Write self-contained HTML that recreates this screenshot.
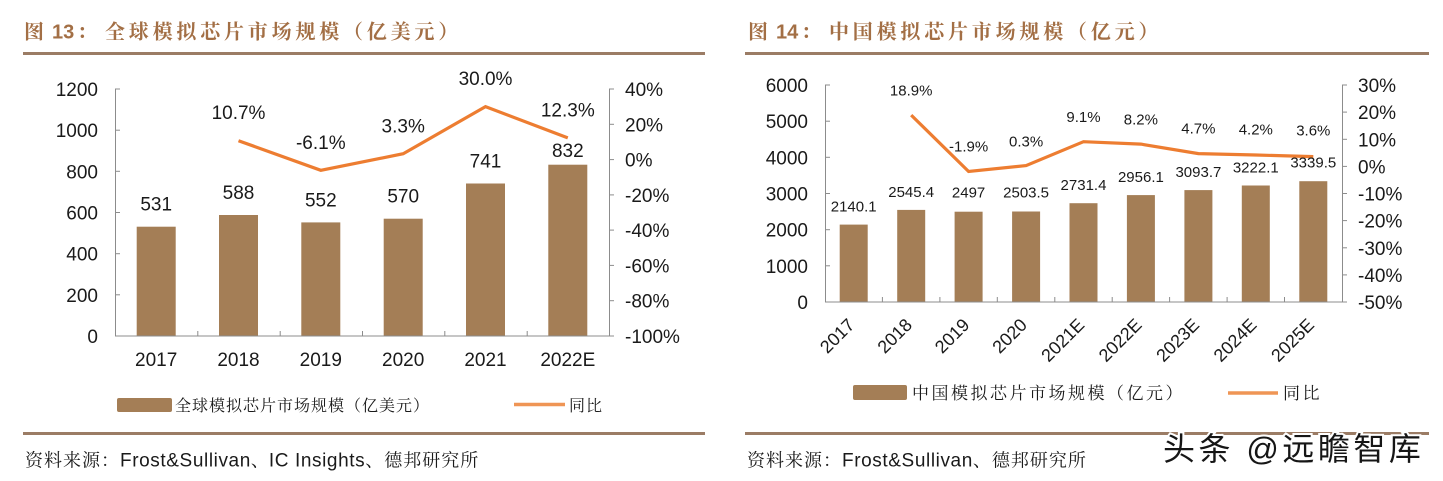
<!DOCTYPE html>
<html><head><meta charset="utf-8"><style>
html,body{margin:0;padding:0;background:#fff;}
svg{display:block;}
.n{font-family:"Liberation Sans",Arial,sans-serif;fill:#1a1a1a;}
.cj{font-family:"Liberation Serif","Noto Serif CJK SC",serif;fill:#1a1a1a;}
.tt{font-family:"Liberation Sans","Noto Serif CJK SC",serif;font-weight:700;fill:#a36f45;font-size:20px;}
</style></head><body>
<svg width="1443" height="481" viewBox="0 0 1443 481" xmlns="http://www.w3.org/2000/svg">
<rect width="1443" height="481" fill="#fff"/>

<!-- ============ LEFT PANEL ============ -->
<text class="tt" x="24" y="38.5">图</text>
<text class="tt" x="52" y="38.5">13</text>
<text class="tt" x="77" y="38.5">：</text>
<text class="tt" x="105" y="38.5" letter-spacing="3.8">全球模拟芯片市场规模（亿美元）</text>
<rect x="23" y="52" width="682" height="3" fill="#9b7c65"/>

<!-- bars -->
<g fill="#a47e56">
<rect x="136.7" y="226.7" width="39" height="109.3"/>
<rect x="219" y="215.0" width="39" height="121.0"/>
<rect x="301.3" y="222.4" width="39" height="113.6"/>
<rect x="383.7" y="218.7" width="39" height="117.3"/>
<rect x="466" y="183.5" width="39" height="152.5"/>
<rect x="548.3" y="164.7" width="39" height="171.3"/>
</g>

<!-- axes -->
<g stroke="#8c8c8c" stroke-width="1" fill="none">
<line x1="115.5" y1="89" x2="115.5" y2="336"/>
<line x1="609.5" y1="89" x2="609.5" y2="336"/>
<line x1="115" y1="336" x2="610" y2="336"/>
<line x1="115" y1="89" x2="120" y2="89"/>
<line x1="115" y1="130.2" x2="120" y2="130.2"/>
<line x1="115" y1="171.3" x2="120" y2="171.3"/>
<line x1="115" y1="212.5" x2="120" y2="212.5"/>
<line x1="115" y1="253.7" x2="120" y2="253.7"/>
<line x1="115" y1="294.8" x2="120" y2="294.8"/>
<line x1="609" y1="89" x2="614" y2="89"/>
<line x1="609" y1="124.3" x2="614" y2="124.3"/>
<line x1="609" y1="159.6" x2="614" y2="159.6"/>
<line x1="609" y1="194.9" x2="614" y2="194.9"/>
<line x1="609" y1="230.1" x2="614" y2="230.1"/>
<line x1="609" y1="265.4" x2="614" y2="265.4"/>
<line x1="609" y1="300.7" x2="614" y2="300.7"/>
<line x1="609" y1="336" x2="614" y2="336"/>
<line x1="197.8" y1="331" x2="197.8" y2="336"/>
<line x1="280.2" y1="331" x2="280.2" y2="336"/>
<line x1="362.5" y1="331" x2="362.5" y2="336"/>
<line x1="444.8" y1="331" x2="444.8" y2="336"/>
<line x1="527.2" y1="331" x2="527.2" y2="336"/>
</g>

<!-- line -->
<polyline points="238.5,140.7 320.8,170.3 403.2,153.75 485.5,106.6 567.8,137.9" fill="none" stroke="#ed7d31" stroke-width="3.2" stroke-linejoin="miter"/>

<!-- left axis labels -->
<g class="n" font-size="19" text-anchor="end">
<text x="98" y="96">1200</text>
<text x="98" y="137.2">1000</text>
<text x="98" y="178.3">800</text>
<text x="98" y="219.5">600</text>
<text x="98" y="260.7">400</text>
<text x="98" y="301.8">200</text>
<text x="98" y="343">0</text>
</g>
<g class="n" font-size="19">
<text x="625" y="96">40%</text>
<text x="625" y="131.3">20%</text>
<text x="625" y="166.6">0%</text>
<text x="625" y="201.9">-20%</text>
<text x="625" y="237.1">-40%</text>
<text x="625" y="272.4">-60%</text>
<text x="625" y="307.7">-80%</text>
<text x="625" y="343">-100%</text>
</g>
<!-- x labels -->
<g class="n" font-size="19" text-anchor="middle">
<text x="156.2" y="366">2017</text>
<text x="238.5" y="366">2018</text>
<text x="320.8" y="366">2019</text>
<text x="403.2" y="366">2020</text>
<text x="485.5" y="366">2021</text>
<text x="567.8" y="366">2022E</text>
</g>
<!-- value labels -->
<g class="n" font-size="19" text-anchor="middle">
<text x="156.2" y="210.7">531</text>
<text x="238.5" y="199">588</text>
<text x="320.8" y="206.4">552</text>
<text x="403.2" y="202.7">570</text>
<text x="485.5" y="167.5">741</text>
<text x="567.8" y="157">832</text>
<text x="238.5" y="119.2">10.7%</text>
<text x="320.8" y="148.8">-6.1%</text>
<text x="403.2" y="132.3">3.3%</text>
<text x="485.5" y="85.1">30.0%</text>
<text x="567.8" y="116.4">12.3%</text>
</g>
<!-- legend -->
<rect x="117" y="398" width="55" height="14" rx="2" fill="#a47e56"/>
<text class="cj" x="175" y="411" font-size="16" letter-spacing="1">全球模拟芯片市场规模（亿美元）</text>
<line x1="514" y1="404.5" x2="565" y2="404.5" stroke="#ef9555" stroke-width="3.5"/>
<text class="cj" x="569" y="411" font-size="16" letter-spacing="1">同比</text>

<rect x="23" y="432" width="682" height="3" fill="#9b7c65"/>
<text x="25" y="466.5" font-size="18"><tspan class="cj" letter-spacing="1">资料来源：</tspan><tspan class="n" font-size="19" letter-spacing="0.6">Frost&amp;Sullivan</tspan><tspan class="cj">、</tspan><tspan class="n" font-size="19" letter-spacing="0.6">IC Insights</tspan><tspan class="cj" letter-spacing="1">、德邦研究所</tspan></text>

<!-- ============ RIGHT PANEL ============ -->
<text class="tt" x="748" y="38.5">图</text>
<text class="tt" x="776" y="38.5">14</text>
<text class="tt" x="801" y="38.5">：</text>
<text class="tt" x="829" y="38.5" letter-spacing="3.8">中国模拟芯片市场规模（亿元）</text>
<rect x="745" y="52" width="684" height="3" fill="#9b7c65"/>

<g fill="#a47e56">
<rect x="839.7" y="224.6" width="28" height="77.4"/>
<rect x="897.2" y="209.9" width="28" height="92.1"/>
<rect x="954.6" y="211.7" width="28" height="90.3"/>
<rect x="1012.1" y="211.5" width="28" height="90.5"/>
<rect x="1069.5" y="203.2" width="28" height="98.8"/>
<rect x="1126.9" y="195.1" width="28" height="106.9"/>
<rect x="1184.4" y="190.1" width="28" height="111.9"/>
<rect x="1241.8" y="185.5" width="28" height="116.5"/>
<rect x="1299.3" y="181.2" width="28" height="120.8"/>
</g>

<g stroke="#8c8c8c" stroke-width="1" fill="none">
<line x1="825.5" y1="85" x2="825.5" y2="302"/>
<line x1="1342.5" y1="85" x2="1342.5" y2="302"/>
<line x1="825" y1="302" x2="1343" y2="302"/>
<line x1="825" y1="85" x2="830" y2="85"/>
<line x1="825" y1="121.2" x2="830" y2="121.2"/>
<line x1="825" y1="157.3" x2="830" y2="157.3"/>
<line x1="825" y1="193.5" x2="830" y2="193.5"/>
<line x1="825" y1="229.7" x2="830" y2="229.7"/>
<line x1="825" y1="265.8" x2="830" y2="265.8"/>
<line x1="1342" y1="85" x2="1347" y2="85"/>
<line x1="1342" y1="112.1" x2="1347" y2="112.1"/>
<line x1="1342" y1="139.3" x2="1347" y2="139.3"/>
<line x1="1342" y1="166.4" x2="1347" y2="166.4"/>
<line x1="1342" y1="193.5" x2="1347" y2="193.5"/>
<line x1="1342" y1="220.6" x2="1347" y2="220.6"/>
<line x1="1342" y1="247.8" x2="1347" y2="247.8"/>
<line x1="1342" y1="274.9" x2="1347" y2="274.9"/>
<line x1="1342" y1="302" x2="1347" y2="302"/>
<line x1="882.4" y1="297" x2="882.4" y2="302"/>
<line x1="939.9" y1="297" x2="939.9" y2="302"/>
<line x1="997.3" y1="297" x2="997.3" y2="302"/>
<line x1="1054.8" y1="297" x2="1054.8" y2="302"/>
<line x1="1112.2" y1="297" x2="1112.2" y2="302"/>
<line x1="1169.6" y1="297" x2="1169.6" y2="302"/>
<line x1="1227.1" y1="297" x2="1227.1" y2="302"/>
<line x1="1284.5" y1="297" x2="1284.5" y2="302"/>
</g>

<polyline points="911.2,115.1 968.6,171.5 1026.1,165.6 1083.5,141.7 1140.9,144.1 1198.4,153.6 1255.8,155.0 1313.3,156.6" fill="none" stroke="#ed7d31" stroke-width="3.2"/>

<g class="n" font-size="19" text-anchor="end">
<text x="808" y="92">6000</text>
<text x="808" y="128.2">5000</text>
<text x="808" y="164.3">4000</text>
<text x="808" y="200.5">3000</text>
<text x="808" y="236.7">2000</text>
<text x="808" y="272.8">1000</text>
<text x="808" y="309">0</text>
</g>
<g class="n" font-size="19">
<text x="1358" y="92">30%</text>
<text x="1358" y="119.1">20%</text>
<text x="1358" y="146.3">10%</text>
<text x="1358" y="173.4">0%</text>
<text x="1358" y="200.5">-10%</text>
<text x="1358" y="227.6">-20%</text>
<text x="1358" y="254.8">-30%</text>
<text x="1358" y="281.9">-40%</text>
<text x="1358" y="309">-50%</text>
</g>

<g class="n" font-size="18" text-anchor="end">
<text transform="translate(855.7,326) rotate(-45)">2017</text>
<text transform="translate(913.2,326) rotate(-45)">2018</text>
<text transform="translate(970.6,326) rotate(-45)">2019</text>
<text transform="translate(1028.1,326) rotate(-45)">2020</text>
<text transform="translate(1085.5,326) rotate(-45)">2021E</text>
<text transform="translate(1142.9,326) rotate(-45)">2022E</text>
<text transform="translate(1200.4,326) rotate(-45)">2023E</text>
<text transform="translate(1257.8,326) rotate(-45)">2024E</text>
<text transform="translate(1315.3,326) rotate(-45)">2025E</text>
</g>

<g class="n" font-size="15" text-anchor="middle">
<text x="853.7" y="211.6">2140.1</text>
<text x="911.2" y="196.9">2545.4</text>
<text x="968.6" y="197.5">2497</text>
<text x="1026.1" y="197.5">2503.5</text>
<text x="1083.5" y="190.2">2731.4</text>
<text x="1140.9" y="182.1">2956.1</text>
<text x="1198.4" y="177.1">3093.7</text>
<text x="1255.8" y="172.5">3222.1</text>
<text x="1313.3" y="167.5">3339.5</text>
<text x="911.2" y="95.4">18.9%</text>
<text x="968.6" y="151.4">-1.9%</text>
<text x="1026.1" y="146.4">0.3%</text>
<text x="1083.5" y="122.1">9.1%</text>
<text x="1140.9" y="124.7">8.2%</text>
<text x="1198.4" y="133.7">4.7%</text>
<text x="1255.8" y="134.7">4.2%</text>
<text x="1313.3" y="135.4">3.6%</text>
</g>

<rect x="853" y="385" width="54" height="15" rx="2" fill="#a47e56"/>
<text class="cj" x="912" y="399" font-size="17" letter-spacing="2.5">中国模拟芯片市场规模（亿元）</text>
<line x1="1228" y1="393" x2="1278" y2="393" stroke="#ef9555" stroke-width="3.5"/>
<text class="cj" x="1283" y="399" font-size="17" letter-spacing="2.5">同比</text>

<rect x="745" y="432" width="684" height="3" fill="#9b7c65"/>
<text x="747" y="466.5" font-size="18"><tspan class="cj" letter-spacing="1">资料来源：</tspan><tspan class="n" font-size="19" letter-spacing="0.6">Frost&amp;Sullivan</tspan><tspan class="cj" letter-spacing="1">、德邦研究所</tspan></text>

<!-- watermark -->
<text x="1163" y="460" font-size="32" letter-spacing="3.5" fill="#161616" stroke="#ffffff" stroke-width="4" paint-order="stroke" font-family="'Liberation Sans','Noto Sans CJK SC',sans-serif">头条 @远瞻智库</text>
</svg>
</body></html>
